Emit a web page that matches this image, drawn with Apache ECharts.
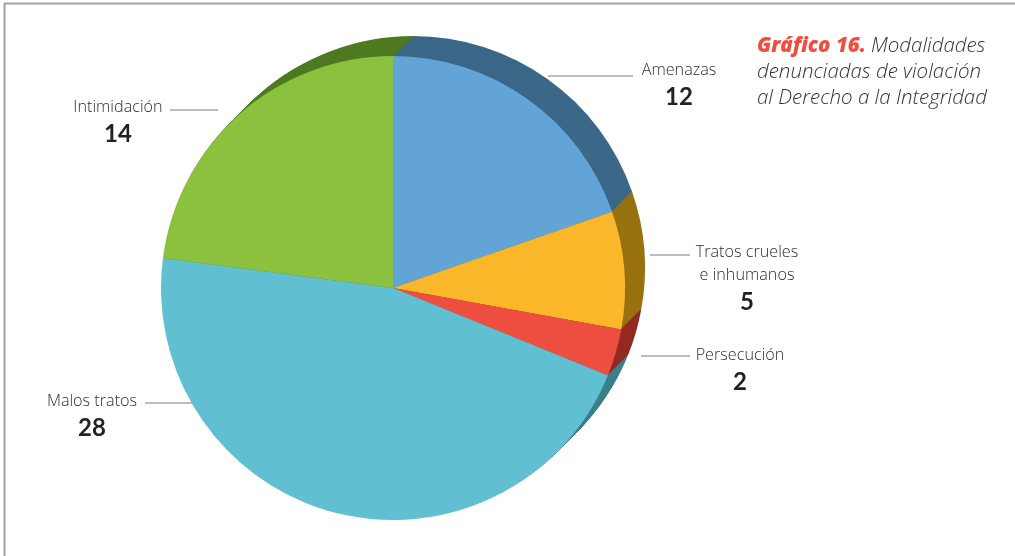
<!DOCTYPE html>
<html>
<head>
<meta charset="utf-8">
<script src="https://cdn.jsdelivr.net/npm/echarts@6/dist/echarts.min.js"></script>
<style>
  html, body { margin: 0; padding: 0; background: #ffffff; }
  #chart { width: 1015px; height: 556px; }
</style>
</head>
<body>
<div id="chart"></div>
<script>
// Modalidades denunciadas de violación al Derecho a la Integridad
const categories = ['Amenazas', 'Tratos crueles\ne inhumanos', 'Persecución', 'Malos tratos', 'Intimidación'];
const values = [12, 5, 2, 28, 14];

// face and side colours of each slice
const faceColors = ['#63a4d6', '#f9b729', '#ee4e3f', '#60c0d2', '#8bc13f'];
const sideColors = ['#3b6788', '#987210', '#932a22', '#3a7f8c', '#4f7a22'];

// label block placement (centre x, top y) and leader line ends
const labelSpots = [
  { x: 679, y: 59,  line: [[548, 76], [633, 76]] },
  { x: 747, y: 241, line: [[650, 255], [690, 255]] },
  { x: 740, y: 344, line: [[641, 356], [690, 356]] },
  { x: 92,  y: 390, line: [[145, 403], [193, 403]] },
  { x: 118, y: 96,  line: [[170, 110], [218, 110]] }
];

const cx = 393, cy = 288, r = 232;
const depth = 20;   // extrusion towards the upper right, in px

const slices = categories.map((name, i) => ({ name, value: values[i] }));

const series = [];
// side wall: stacked darker copies from back to front
for (let k = depth; k >= 1; k--) {
  series.push({
    type: 'pie',
    z: 2,
    silent: true,
    animation: false,
    center: [cx + k, cy - k],
    radius: r,
    startAngle: 90,
    clockwise: true,
    avoidLabelOverlap: false,
    label: { show: false },
    labelLine: { show: false },
    emphasis: { disabled: true },
    itemStyle: { color: p => sideColors[p.dataIndex], borderWidth: 0 },
    data: slices
  });
}
// top face with labels
series.push({
  type: 'pie',
  z: 3,
  silent: true,
  animation: false,
  center: [cx, cy],
  radius: r,
  startAngle: 90,
  clockwise: true,
  avoidLabelOverlap: false,
  itemStyle: { color: p => faceColors[p.dataIndex], borderWidth: 0 },
  emphasis: { disabled: true },
  label: {
    show: true,
    formatter: p => {
      const lines = p.name.split('\n').map(t => '{n|' + t + '}').join('\n');
      return lines + '\n{v|' + p.value + '}';
    },
    rich: {
      n: { fontFamily: 'Open Sans', fontWeight: 300, fontSize: 16.2, color: '#2e2e2e', lineHeight: 23, align: 'center' },
      v: { fontFamily: 'Lato', fontWeight: 'bold', fontSize: 24, color: '#222222', lineHeight: 30, align: 'center' }
    }
  },
  labelLine: {
    show: true,
    lineStyle: { color: '#a8a8a8', width: 1.3 }
  },
  labelLayout: params => {
    const s = labelSpots[params.dataIndex];
    const a = s.line[0], b = s.line[1];
    return {
      x: s.x,
      y: s.y,
      align: 'center',
      verticalAlign: 'top',
      labelLinePoints: [a, [(a[0] + b[0]) / 2, (a[1] + b[1]) / 2], b]
    };
  },
  data: slices
});

const chart = echarts.init(document.getElementById('chart'), null, { renderer: 'canvas' });
chart.setOption({
  backgroundColor: '#ffffff',
  animation: false,
  title: {
    left: 757,
    top: 33,
    padding: 0,
    text: '{a|Gráfico 16.} {b|Modalidades}\n{b|denunciadas de violación}\n{b|al Derecho a la Integridad}',
    textStyle: {
      rich: {
        a: { fontFamily: 'Open Sans', fontStyle: 'italic', fontWeight: 800, fontSize: 20.5, color: '#ee4e3f', lineHeight: 26 },
        b: { fontFamily: 'Open Sans', fontStyle: 'italic', fontWeight: 300, fontSize: 20.5, color: '#333333', lineHeight: 26 }
      }
    }
  },
  graphic: [{
    type: 'polyline',
    silent: true,
    shape: { points: [[4.5, 556], [4.5, 3.5], [1015, 3.5]] },
    style: { stroke: '#a2a2a2', lineWidth: 2, fill: null }
  }],
  series
});
</script>
</body>
</html>
